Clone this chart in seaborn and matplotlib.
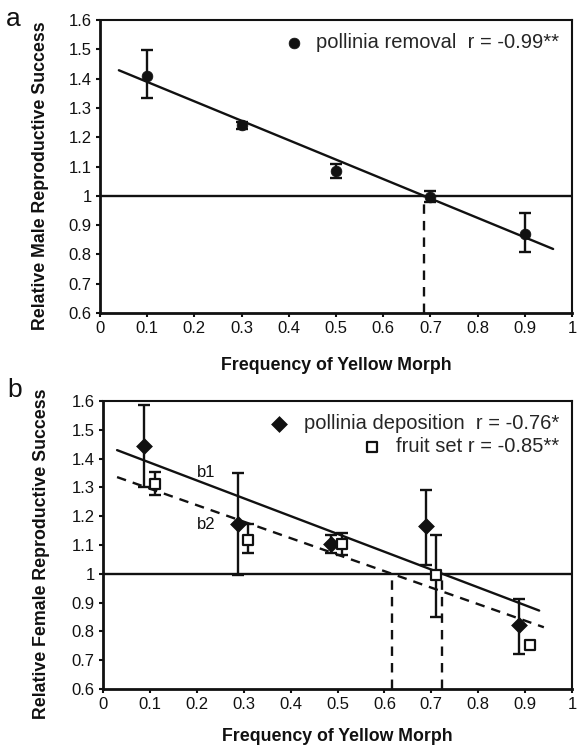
import numpy as np
import pandas as pd
import matplotlib
matplotlib.use("Agg")
import matplotlib.pyplot as plt
from matplotlib.ticker import FuncFormatter
import seaborn as sns

# panel a: pollinia removal (male success)
freq_a = [0.1, 0.3, 0.5, 0.7, 0.9]
removal = [1.41, 1.24, 1.085, 0.995, 0.87]
removal_lo = [1.333, 1.228, 1.061, 0.98, 0.808]
removal_hi = [1.497, 1.252, 1.11, 1.015, 0.94]

# panel b: pollinia deposition and fruit set (female success)
freq_dep = [0.088, 0.287, 0.486, 0.689, 0.888]
deposition = [1.443, 1.172, 1.105, 1.165, 0.822]
dep_lo = [1.302, 0.995, 1.073, 1.032, 0.72]
dep_hi = [1.586, 1.35, 1.134, 1.29, 0.912]

freq_fruit = [0.110, 0.309, 0.510, 0.711, 0.911]
fruit = [1.313, 1.119, 1.102, 0.995, 0.753]
fruit_lo = [1.273, 1.073, 1.065, 0.851, 0.745]
fruit_hi = [1.352, 1.172, 1.14, 1.134, 0.76]

# regression lines: intercept, slope, x-extent
fit_a = [1.455, -0.663]
fit_b1 = [1.448, -0.619]
fit_b2 = [1.353, -0.573]
span_a = [0.04, 0.96]
span_b1 = [0.03, 0.93]
span_b2 = [0.03, 0.94]

label_a = "pollinia removal  r = -0.99**"
label_dep = "pollinia deposition  r = -0.76*"
label_fruit = "fruit set r = -0.85**"

sns.set_style("ticks")
plt.rcParams["font.family"] = ["Liberation Sans", "DejaVu Sans"]
plt.rcParams["axes.linewidth"] = 1.5

K = "#111111"
fig = plt.figure(figsize=(5.8, 7.53), dpi=100)
ax_a = fig.add_axes([100 / 580, 1 - 313 / 753, 472 / 580, 293 / 753])
ax_b = fig.add_axes([103 / 580, 1 - 689 / 753, 469 / 580, 288 / 753])


def fit_line(ax, fit, span, ls="-"):
    xs = np.array(span)
    line = pd.DataFrame({"x": xs, "y": fit[0] + fit[1] * xs})
    sns.lineplot(data=line, x="x", y="y", ax=ax, color=K, lw=1.7,
                 linestyle=ls, zorder=2)
    # where the fitted line crosses relative success = 1
    xc = (1 - fit[0]) / fit[1]
    ax.vlines(xc, 0.6, 1.0, colors=K, lw=1.7, linestyles=(0, (4, 3)), zorder=1)


def err(ax, x, y, lo, hi):
    y = np.array(y)
    yerr = [y - np.array(lo), np.array(hi) - y]
    ax.errorbar(x, y, yerr=yerr, fmt="none", ecolor=K, elinewidth=1.7,
                capsize=4, capthick=1.7, zorder=3)


def style(ax, ylabel, xlab_y, ylab_x):
    ax.set_xlim(0, 1)
    ax.set_ylim(0.6, 1.6)
    ax.set_xticks(np.arange(0, 1.01, 0.1))
    ax.set_yticks(np.arange(0.6, 1.61, 0.1))
    fmt = FuncFormatter(lambda v, p: "%g" % round(v, 2))
    ax.xaxis.set_major_formatter(fmt)
    ax.yaxis.set_major_formatter(fmt)
    ax.tick_params(direction="out", length=3, width=1.5, labelsize=12,
                   colors=K, pad=3)
    for s in ax.spines.values():
        s.set_visible(True)
        s.set_color(K)
    ax.spines["left"].set_linewidth(2)
    ax.spines["bottom"].set_linewidth(2)
    ax.axhline(1, color=K, lw=1.7, zorder=1)
    ax.set_xlabel("Frequency of Yellow Morph", fontsize=12.8, fontweight="bold", color=K)
    ax.set_ylabel(ylabel, fontsize=12.8, fontweight="bold", color=K)
    ax.xaxis.set_label_coords(0.5, xlab_y)
    ax.yaxis.set_label_coords(ylab_x, 0.47)


# ---- panel a
style(ax_a, "Relative Male Reproductive Success", -0.15, -0.108)
fit_line(ax_a, fit_a, span_a)
err(ax_a, freq_a, removal, removal_lo, removal_hi)
sns.scatterplot(x=freq_a, y=removal, ax=ax_a, marker="o", s=60, color=K,
                edgecolor=K, linewidth=0.5, zorder=4, label=label_a)
ax_a.legend(loc="upper right", bbox_to_anchor=(1.0, 1.0), frameon=False,
            fontsize=14.5, handletextpad=0.5, borderaxespad=0.25, handlelength=1.2)
fig.text(13 / 580, 1 - 19 / 753, "a", fontsize=19, ha="center", va="center", color=K)

# ---- panel b
style(ax_b, "Relative Female Reproductive Success", -0.135, -0.112)
fit_line(ax_b, fit_b1, span_b1)
fit_line(ax_b, fit_b2, span_b2, ls=(0, (4, 3)))
err(ax_b, freq_dep, deposition, dep_lo, dep_hi)
err(ax_b, freq_fruit, fruit, fruit_lo, fruit_hi)
sns.scatterplot(x=freq_dep, y=deposition, ax=ax_b, marker="D", s=65, color=K,
                edgecolor=K, linewidth=0.5, zorder=4, label=label_dep)
sns.scatterplot(x=freq_fruit, y=fruit, ax=ax_b, marker="s", s=52, color="white",
                edgecolor=K, linewidth=1.6, zorder=4, label=label_fruit)
leg = ax_b.legend(loc="upper right", bbox_to_anchor=(1.0, 1.0), frameon=False,
                  fontsize=14.5, handletextpad=0.6, borderaxespad=0.25,
                  handlelength=1.2, labelspacing=0.2)
# right-align the legend rows like the original
for col in leg._legend_handle_box.get_children():
    col.align = "right"
ax_b.text(0.2, 1.35, "b1", fontsize=12, color=K, ha="left", va="center")
ax_b.text(0.2, 1.172, "b2", fontsize=12, color=K, ha="left", va="center")
fig.text(15 / 580, 1 - 390 / 753, "b", fontsize=19, ha="center", va="center", color=K)

fig.savefig("out.png", dpi=100)
